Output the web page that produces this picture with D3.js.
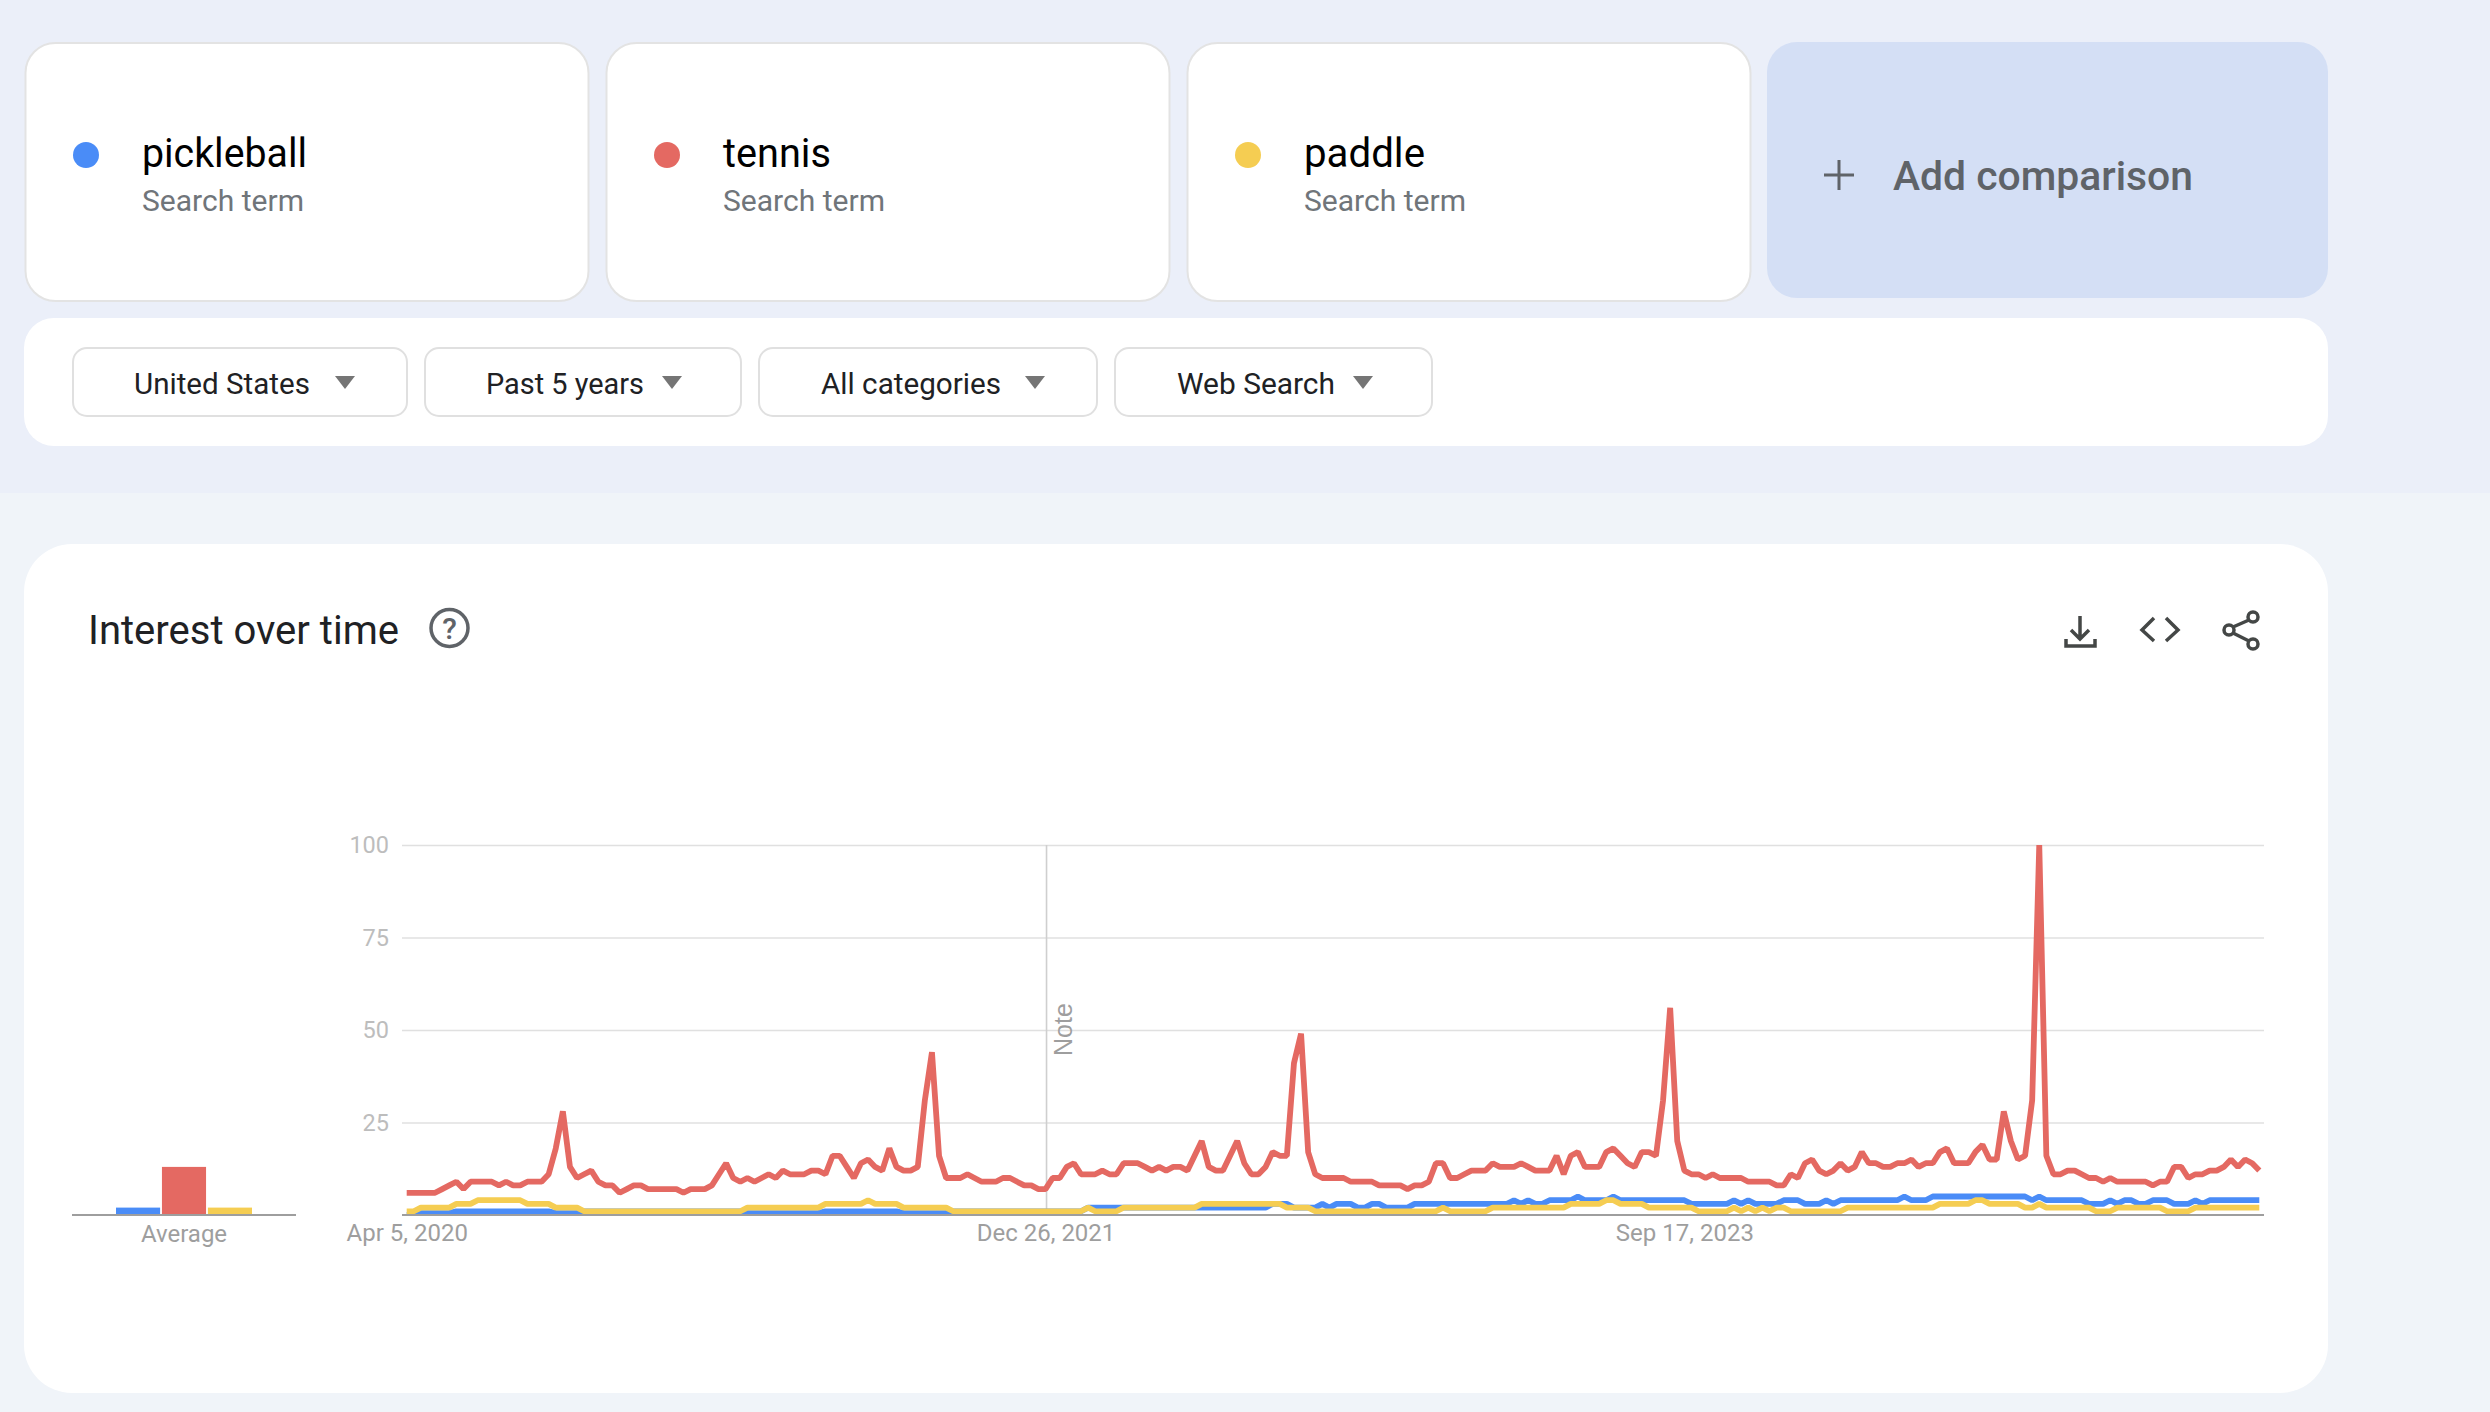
<!DOCTYPE html>
<html>
<head>
<meta charset="utf-8">
<script src="https://cdn.jsdelivr.net/npm/d3@7/dist/d3.min.js"></script>
<style>
  html, body { margin: 0; padding: 0; background: #f0f4f9; }
  svg { display: block; }
  text { font-family: Roboto, sans-serif; }
  .axis-label { fill: #bdbdbd; font-size: 23.5px; }
  .date-label { fill: #9e9e9e; font-size: 24px; }
</style>
</head>
<body>
<div id="chart"></div>
<script>
const searchTerms = ["pickleball", "tennis", "paddle"];
const termSubtitle = "Search term";
const filterLabels = ["United States", "Past 5 years", "All categories", "Web Search"];
const yTicks = [25, 50, 75, 100];
const averageValues = [2, 13, 2];
const tickDates = ["2020-04-05", "2021-12-26", "2023-09-17"];

const pickleballValues = [
  0, 0, .5, .5, .5, .5, .5, 1, 1, 1,
  1, 1, 1, 1, 1, 1, 1, 1, 1, 1,
  1, .5, .5, .5, .5, 1, 1, 1, 1, 1,
  1, 1, 1, 1, 1, 1, 1, 1, 1, 1,
  1, 1, 1, 1, 1, 1, 1, 1, .5, .5,
  .5, .5, .5, .5, .5, .5, .5, .5, .5, 1,
  1, 1, 1, 1, 1, 1, 1, 1, 1, 1,
  .5, .5, .5, .5, .5, .5, .5, 1, 1, 1,
  1, 1, 1, 1, 1, 1, 1, 1, 1, 1,
  1, 1, 1, 1, 1, 1, 2, 2, 2, 2,
  2, 2, 2, 2, 2, 2, 2, 2, 2, 2,
  2, 2, 2, 2, 2, 2, 2, 2, 2, 2,
  2, 2, 3, 3, 3, 2, 2, 2, 2, 3,
  2, 3, 3, 3, 2, 2, 3, 3, 2, 2,
  2, 2, 3, 3, 3, 3, 3, 3, 3, 3,
  3, 3, 3, 3, 3, 3, 4, 3, 4, 3,
  3, 4, 4, 4, 4, 5, 4, 4, 4, 4,
  5, 4, 4, 4, 4, 4, 4, 4, 4, 4,
  4, 3, 3, 3, 3, 3, 3, 4, 3, 4,
  3, 3, 3, 3, 4, 4, 4, 3, 3, 3,
  4, 3, 4, 4, 4, 4, 4, 4, 4, 4,
  4, 5, 4, 4, 4, 5, 5, 5, 5, 5,
  5, 5, 5, 5, 5, 5, 5, 5, 5, 4,
  5, 4, 4, 4, 4, 4, 4, 3, 3, 3,
  4, 3, 4, 4, 3, 3, 4, 4, 4, 3,
  3, 3, 4, 3, 4, 4, 4, 4, 4, 4,
  4, 4
];

const tennisValues = [
  6, 6, 6, 6, 6, 7, 8, 9, 7, 9,
  9, 9, 9, 8, 9, 8, 8, 9, 9, 9,
  11, 18, 28, 13, 10, 11, 12, 9, 8, 8,
  6, 7, 8, 8, 7, 7, 7, 7, 7, 6,
  7, 7, 7, 8, 11, 14, 10, 9, 10, 9,
  10, 11, 10, 12, 11, 11, 11, 12, 12, 11,
  16, 16, 13, 10, 14, 15, 13, 12, 18, 13,
  12, 12, 13, 31, 44, 16, 10, 10, 10, 11,
  10, 9, 9, 9, 10, 10, 9, 8, 8, 7,
  7, 10, 10, 13, 14, 11, 11, 11, 12, 11,
  11, 14, 14, 14, 13, 12, 13, 12, 13, 13,
  12, 16, 20, 13, 12, 12, 16, 20, 14, 11,
  11, 13, 17, 16, 16, 41, 49, 17, 11, 10,
  10, 10, 10, 9, 9, 9, 9, 8, 8, 8,
  8, 7, 8, 8, 9, 14, 14, 10, 10, 11,
  12, 12, 12, 14, 13, 13, 13, 14, 13, 12,
  12, 12, 16, 11, 16, 17, 13, 13, 13, 17,
  18, 16, 14, 13, 17, 17, 16, 31, 56, 20,
  12, 11, 11, 10, 11, 10, 10, 10, 10, 9,
  9, 9, 9, 8, 8, 11, 10, 14, 15, 12,
  11, 12, 14, 12, 13, 17, 14, 14, 13, 13,
  14, 14, 15, 13, 14, 14, 17, 18, 14, 14,
  14, 17, 19, 15, 15, 28, 20, 15, 16, 31,
  100, 16, 11, 11, 12, 12, 11, 10, 10, 9,
  10, 9, 9, 9, 9, 9, 8, 9, 9, 13,
  13, 10, 11, 11, 12, 12, 13, 15, 13, 15,
  14, 12
];

const paddleValues = [
  1, 1, 2, 2, 2, 2, 2, 3, 3, 3,
  4, 4, 4, 4, 4, 4, 4, 3, 3, 3,
  3, 2, 2, 2, 2, 1, 1, 1, 1, 1,
  1, 1, 1, 1, 1, 1, 1, 1, 1, 1,
  1, 1, 1, 1, 1, 1, 1, 1, 2, 2,
  2, 2, 2, 2, 2, 2, 2, 2, 2, 3,
  3, 3, 3, 3, 3, 4, 3, 3, 3, 3,
  2, 2, 2, 2, 2, 2, 2, 1, 1, 1,
  1, 1, 1, 1, 1, 1, 1, 1, 1, 1,
  1, 1, 1, 1, 1, 1, 2, 1, 1, 1,
  1, 2, 2, 2, 2, 2, 2, 2, 2, 2,
  2, 2, 3, 3, 3, 3, 3, 3, 3, 3,
  3, 3, 3, 3, 2, 2, 2, 2, 1, 1,
  1, 1, 1, 1, 1, 1, 1, 1, 1, 1,
  1, 1, 1, 1, 1, 1, 2, 1, 1, 1,
  1, 1, 1, 2, 2, 2, 2, 2, 2, 2,
  2, 2, 2, 2, 3, 3, 3, 3, 3, 4,
  4, 3, 3, 3, 3, 2, 2, 2, 2, 2,
  2, 2, 1, 1, 1, 1, 1, 2, 1, 2,
  1, 2, 1, 2, 2, 1, 1, 1, 1, 1,
  1, 1, 1, 2, 2, 2, 2, 2, 2, 2,
  2, 2, 2, 2, 2, 2, 3, 3, 3, 3,
  3, 4, 4, 3, 3, 3, 3, 3, 2, 2,
  3, 2, 2, 2, 2, 2, 2, 2, 1, 1,
  1, 2, 2, 2, 2, 2, 2, 2, 1, 1,
  1, 1, 2, 2, 2, 2, 2, 2, 2, 2,
  2, 2
];

const seriesValues = [pickleballValues, tennisValues, paddleValues];
const seriesColors = ["#4a8cf7", "#e46962", "#f5cd52"];

const WIDTH = 2490;
const HEIGHT = 1412;
const PLOT_LEFT = 402;
const PLOT_RIGHT = 2264;
const PLOT_TOP = 845;
const PLOT_BOTTOM = 1215;

const svg = d3
  .select("#chart")
  .append("svg")
  .attr("width", WIDTH)
  .attr("height", HEIGHT)
  .attr("viewBox", `0 0 ${WIDTH} ${HEIGHT}`);

// page bands
svg.append("rect").attr("width", WIDTH).attr("height", HEIGHT).attr("fill", "#f0f4f9");
svg.append("rect").attr("width", WIDTH).attr("height", 493).attr("fill", "#ebeff9");

function roundedBox(x0, y0, x1, y1, r, fill, stroke) {
  svg
    .append("rect")
    .attr("x", x0)
    .attr("y", y0)
    .attr("width", x1 - x0)
    .attr("height", y1 - y0)
    .attr("rx", r)
    .attr("fill", fill)
    .attr("stroke", stroke || "none")
    .attr("stroke-width", stroke ? 2 : 0);
}

// width squeezes Roboto to the width the label has in the picture
function label(x, y, text, size, fill, weight, width) {
  const node = svg
    .append("text")
    .attr("x", x)
    .attr("y", y)
    .attr("font-size", size)
    .attr("font-weight", weight || 400)
    .attr("fill", fill)
    .text(text);
  if (width) {
    node.attr("textLength", width).attr("lengthAdjust", "spacingAndGlyphs");
  }
  return node;
}

// search term cards
const cardLefts = [25.5, 606.5, 1187.5];
const termWidths = [165, 108, 121];
searchTerms.forEach((term, i) => {
  const x0 = cardLefts[i];
  roundedBox(x0, 43, x0 + 563, 301, 30, "#fff", "#e3e3e3");
  svg.append("circle").attr("cx", x0 + 60.5).attr("cy", 155).attr("r", 13).attr("fill", seriesColors[i]);
  label(x0 + 116.5, 167, term, 41, "#000", 400, termWidths[i]);
  label(x0 + 116.5, 211, termSubtitle, 30, "#70757a", 400, 162);
});

// add comparison card
roundedBox(1767, 42, 2328, 298, 30, "#d4dff5");
svg
  .append("path")
  .attr("d", "M1824 175H1854M1839 160V190")
  .attr("stroke", "#5f6368")
  .attr("stroke-width", 3)
  .attr("fill", "none");
label(1893, 190, "Add comparison", 41, "#5f6368", 500, 300);

// filter row
roundedBox(24, 318, 2328, 446, 30, "#fff");
const chipBoxes = [[73, 407], [425, 741], [759, 1097], [1115, 1432]];
const chipTextX = [134, 486, 821, 1177];
const chipTextWidths = [176, 158, 180, 158];
const chipArrowX = [345, 672, 1035, 1363];
filterLabels.forEach((name, i) => {
  roundedBox(chipBoxes[i][0], 348, chipBoxes[i][1], 416, 14, "#fff", "#e0e0e0");
  label(chipTextX[i], 394, name, 30, "#202124", 400, chipTextWidths[i]);
  svg
    .append("path")
    .attr("d", `M${chipArrowX[i] - 10} 376H${chipArrowX[i] + 10}L${chipArrowX[i]} 389Z`)
    .attr("fill", "#757575");
});

// chart card
roundedBox(24, 544, 2328, 1393, 48, "#fff");
label(88, 644, "Interest over time", 40, "#202124", 400, 311);

const iconGroup = svg
  .append("g")
  .attr("fill", "none")
  .attr("stroke", "#444746")
  .attr("stroke-width", 3.5);

// help icon
svg
  .append("circle")
  .attr("cx", 449.5)
  .attr("cy", 628)
  .attr("r", 18.5)
  .attr("fill", "none")
  .attr("stroke", "#5f6368")
  .attr("stroke-width", 3.5);
label(449.5, 639, "?", 30, "#5f6368", 500).attr("text-anchor", "middle");

// download, embed, share icons
iconGroup.append("path").attr("d", "M2080 616V638M2071 630L2080 639L2089 630");
iconGroup.append("path").attr("d", "M2066 639V646H2095V639");
iconGroup.append("path").attr("d", "M2154 618L2142 630L2154 641M2166 618L2178 630L2166 641");
iconGroup.append("path").attr("d", "M2249 620L2233 627M2233 633L2249 641");
iconGroup.append("circle").attr("cx", 2253).attr("cy", 617).attr("r", 5);
iconGroup.append("circle").attr("cx", 2229).attr("cy", 630).attr("r", 5);
iconGroup.append("circle").attr("cx", 2253).attr("cy", 644).attr("r", 5);

// scales
const parseDay = d3.utcParse("%Y-%m-%d");
const formatDay = d3.utcFormat("%b %-d, %Y");
const weeks = d3.utcSunday.range(parseDay("2020-04-05"), parseDay("2025-04-07"));

const x = d3.scaleUtc().domain(d3.extent(weeks)).range([406.7, 2259.3]);
const y = d3.scaleLinear().domain([0, 100]).range([PLOT_BOTTOM, PLOT_TOP]);

// y axis and gridlines
const yAxis = svg
  .append("g")
  .attr("transform", `translate(${PLOT_LEFT},0)`)
  .call(
    d3.axisLeft(y)
      .tickValues(yTicks)
      .tickSize(-(PLOT_RIGHT - PLOT_LEFT))
      .tickPadding(13)
  );
yAxis.select(".domain").remove();
yAxis.selectAll("line").attr("stroke", "#e0e0e0").attr("stroke-width", 1.6);
yAxis
  .selectAll("text")
  .attr("class", "axis-label")
  .attr("fill", null)
  .attr("font-family", null);

// note marker
const noteDate = parseDay("2021-12-27");
svg
  .append("line")
  .attr("x1", x(noteDate))
  .attr("x2", x(noteDate))
  .attr("y1", PLOT_TOP)
  .attr("y2", PLOT_BOTTOM)
  .attr("stroke", "#cfcfcf")
  .attr("stroke-width", 1.6);
svg
  .append("text")
  .attr("transform", "translate(1072,1056) rotate(-90)")
  .attr("font-size", 25)
  .attr("fill", "#9e9e9e")
  .style("font-family", "'Liberation Sans', Arial, sans-serif")
  .text("Note");

// series lines, clipped at the baseline
svg
  .append("clipPath")
  .attr("id", "plot-clip")
  .append("rect")
  .attr("x", PLOT_LEFT)
  .attr("y", PLOT_TOP - 4)
  .attr("width", PLOT_RIGHT - PLOT_LEFT)
  .attr("height", PLOT_BOTTOM - PLOT_TOP + 4);

const lineGen = d3
  .line()
  .x((d, i) => x(weeks[i]))
  .y((d) => y(d));

svg
  .append("g")
  .attr("clip-path", "url(#plot-clip)")
  .selectAll("path")
  .data(seriesValues)
  .join("path")
  .attr("d", lineGen)
  .attr("fill", "none")
  .attr("stroke", (d, i) => seriesColors[i])
  .attr("stroke-width", 5.8)
  .attr("stroke-linejoin", "bevel");

// x axis
const xAxis = svg
  .append("g")
  .attr("transform", `translate(0,${PLOT_BOTTOM})`)
  .call(
    d3.axisBottom(x)
      .tickValues(tickDates.map(parseDay))
      .tickFormat(formatDay)
      .tickSize(0)
      .tickPadding(9)
  );
xAxis.select(".domain").remove();
xAxis
  .selectAll("text")
  .attr("class", "date-label")
  .attr("fill", null)
  .attr("font-family", null);
svg
  .append("line")
  .attr("x1", PLOT_LEFT)
  .attr("x2", PLOT_RIGHT)
  .attr("y1", PLOT_BOTTOM)
  .attr("y2", PLOT_BOTTOM)
  .attr("stroke", "#9e9e9e")
  .attr("stroke-width", 2);

// average bars
const xAvg = d3.scaleBand().domain(searchTerms).range([116, 252]).paddingInner(0.04);

svg
  .append("g")
  .selectAll("rect")
  .data(averageValues)
  .join("rect")
  .attr("x", (d, i) => xAvg(searchTerms[i]))
  .attr("y", (d) => y(d))
  .attr("width", xAvg.bandwidth())
  .attr("height", (d) => y(0) - y(d))
  .attr("fill", (d, i) => seriesColors[i]);

svg
  .append("line")
  .attr("x1", 72)
  .attr("x2", 296)
  .attr("y1", PLOT_BOTTOM)
  .attr("y2", PLOT_BOTTOM)
  .attr("stroke", "#9e9e9e")
  .attr("stroke-width", 2);

svg
  .append("text")
  .attr("class", "date-label")
  .attr("x", 184)
  .attr("y", 1242)
  .attr("text-anchor", "middle")
  .text("Average");
</script>
</body>
</html>
